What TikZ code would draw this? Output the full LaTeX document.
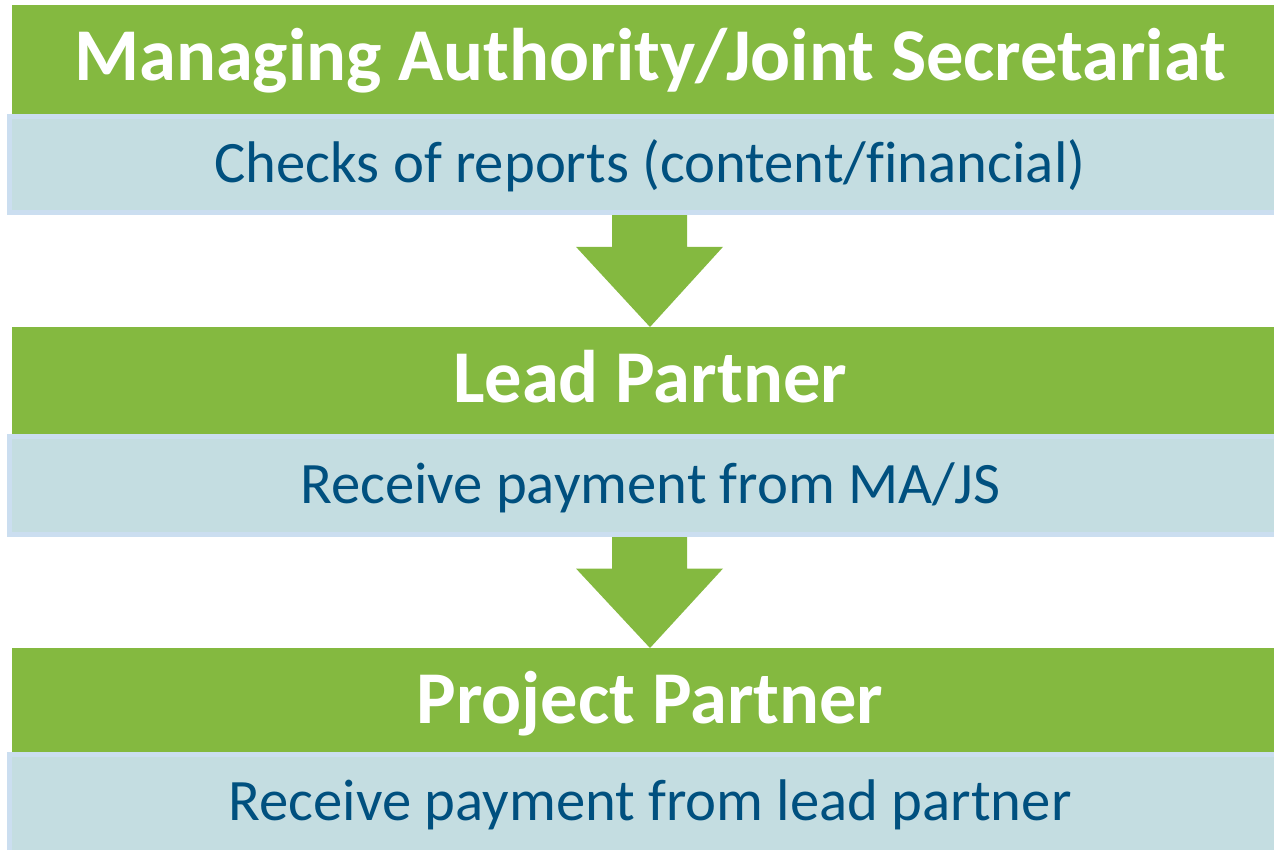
\documentclass[tikz,border=0pt]{standalone}
\usepackage{fontspec}
\setmainfont[Ligatures=NoCommon]{Carlito}
\usetikzlibrary{calc}
\definecolor{hdgreen}{RGB}{132,185,64}
\definecolor{bodyfill}{RGB}{196,221,225}
\definecolor{bodyline}{RGB}{203,222,240}
\definecolor{bodytext}{RGB}{0,80,127}
\begin{document}
\begin{tikzpicture}[x=1pt,y=-1pt,
  header/.style={fill=hdgreen, draw=none, minimum width=1276pt, inner sep=0pt, outer sep=0pt},
  body/.style={fill=bodyfill, draw=bodyline, line width=5pt, minimum width=1281pt, inner sep=0pt, outer sep=0pt},
  title/.style={anchor=base, text=white, font=\fontsize{74.5}{80}\selectfont\bfseries, inner sep=0pt},
  bodylabel/.style={anchor=base, text=bodytext, font=\fontsize{58.7}{66}\selectfont, inner sep=0pt},
  flowarrow/.style={fill=hdgreen, draw=none}
]
\useasboundingbox (0,0) rectangle (1274,849);
\clip (0,0) rectangle (1274,849);

% row 1
\node[header, minimum height=109pt] (h1) at (650,59.5) {};
\node[body, minimum height=96pt] (b1) at (650,164.5) {};
% row 2
\node[header, minimum height=107pt] (h2) at (650,380.5) {};
\node[body, minimum height=98pt] (b2) at (650,485.5) {};
% row 3
\node[header, minimum height=104pt] (h3) at (650,700) {};
\node[body, minimum height=98pt] (b3) at (650,803) {};

\node[title] (t1) at (650,80) {Managing Authority/Joint Secretariat};
\node[bodylabel] (l1) at (650,182) {Checks of reports (content/financial)};
\node[title] (t2) at (650,402) {Lead Partner};
\node[bodylabel] (l2) at (650,503) {Receive payment from MA/JS};
\node[title] (t3) at (650,723) {Project Partner};
\node[bodylabel] (l3) at (650,820) {Receive payment from lead partner};

% arrows
\fill[flowarrow] ([xshift=-38pt,yshift=-2.5pt]b1.south) -- ([xshift=37pt,yshift=-2.5pt]b1.south)
  -- ($([xshift=37pt]b1.south)!0.3!([xshift=37pt]h2.north)$) -- ($([xshift=73pt]b1.south)!0.3!([xshift=73pt]h2.north)$)
  -- (h2.north) -- ($([xshift=-74pt]b1.south)!0.3!([xshift=-74pt]h2.north)$)
  -- ($([xshift=-38pt]b1.south)!0.3!([xshift=-38pt]h2.north)$) -- cycle;
\fill[flowarrow] ([xshift=-38pt,yshift=-2.5pt]b2.south) -- ([xshift=37pt,yshift=-2.5pt]b2.south)
  -- ($([xshift=37pt]b2.south)!0.3!([xshift=37pt]h3.north)$) -- ($([xshift=73pt]b2.south)!0.3!([xshift=73pt]h3.north)$)
  -- (h3.north) -- ($([xshift=-74pt]b2.south)!0.3!([xshift=-74pt]h3.north)$)
  -- ($([xshift=-38pt]b2.south)!0.3!([xshift=-38pt]h3.north)$) -- cycle;
\end{tikzpicture}
\end{document}
